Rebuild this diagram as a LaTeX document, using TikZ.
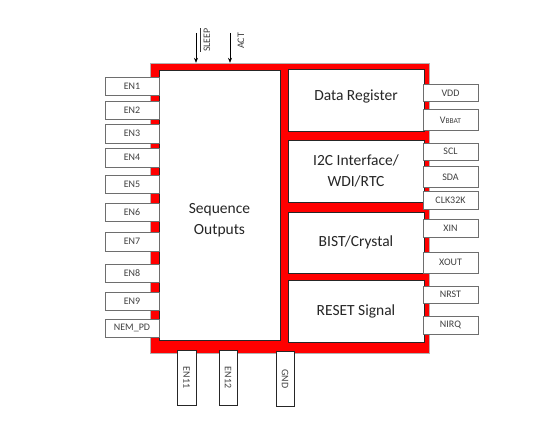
\documentclass[tikz,border=0pt]{standalone}
\usepackage{fontspec}
\setmainfont{Carlito}
\usetikzlibrary{arrows.meta}
\definecolor{chipred}{HTML}{FF0000}
\definecolor{pingray}{HTML}{6E6E6E}
\definecolor{labelgray}{HTML}{404040}
\begin{document}
\begin{tikzpicture}[x=1pt, y=-1pt,
    pinbox/.style={draw=pingray, fill=white, line width=0.8pt, inner sep=0pt,
      text=labelgray, font=\fontsize{10}{12}\selectfont},
    lpin/.style={pinbox, minimum width=54pt, minimum height=18pt},
    rpin/.style={pinbox, minimum width=55pt, minimum height=17pt},
    bpin/.style={pinbox, draw=black!85, minimum width=55pt, minimum height=18pt, rotate=-90},
    block/.style={draw=black!85, fill=white, line width=0.6pt, inner sep=0pt,
      align=center, text=black!85, font=\fontsize{15.5}{21}\selectfont},
    sigtext/.style={text=labelgray, inner sep=0pt, font=\fontsize{10}{12}\selectfont},
    sigarrow/.style={-{Stealth[length=5pt, width=4pt]}, line width=0.6pt}]
    \useasboundingbox (0,0) rectangle (560,433);
    % chip body
    \node[draw=gray!60, fill=chipred, minimum width=279pt, minimum height=290pt] (chip) at (289.5,208) {};
    \node[block, minimum width=121pt, minimum height=270pt] (seq) at (219.5,205) {};
    \node[block, draw=none, fill=none] (seqlbl) at (219.5,220) {Sequence\\Outputs};
    \node[block, minimum width=136pt, minimum height=62pt] (datareg) at (356,100) {};
    \node[block, draw=none, fill=none] (datalbl) at (356,97) {Data Register};
    \node[block, minimum width=136pt, minimum height=62pt] (i2c) at (356,171) {I2C Interface/\\WDI/RTC};
    \node[block, minimum width=136pt, minimum height=61pt] (bist) at (356,242.5) {BIST/Crystal};
    \node[block, minimum width=136pt, minimum height=62pt] (reset) at (356,311) {RESET Signal};
    % top inputs
    \coordinate (sleeptop) at (196,33);
    \coordinate (acttop) at (230,33);
    \draw[sigarrow] (sleeptop) -- (sleeptop |- chip.north);
    \draw[sigarrow] (acttop) -- (acttop |- chip.north);
    \node[sigtext, rotate=90] (sleeplbl) at (207,40) {SLEEP};
    \coordinate (barlow) at (200,52);
    \coordinate (barhigh) at (200,28);
    \draw[line width=0.7pt, black!80] (barlow) -- (barhigh);
    \node[sigtext, rotate=90] (actlbl) at (241,41) {ACT};
    % left pins
    \node[lpin] (en1) at (132,86) {EN1};
    \node[lpin] (en2) at (132,110) {EN2};
    \node[lpin, minimum height=19pt] (en3) at (132,133.5) {EN3};
    \node[lpin, minimum height=19pt] (en4) at (132,157.5) {EN4};
    \node[lpin] (en5) at (132,184) {EN5};
    \node[lpin] (en6) at (132,212) {EN6};
    \node[lpin, minimum height=19pt] (en7) at (132,241.5) {EN7};
    \node[lpin] (en8) at (132,273) {EN8};
    \node[lpin] (en9) at (132,301) {EN9};
    \node[lpin] (nempd) at (132,328) {NEM\_PD};
    % right pins
    \node[rpin] (vdd) at (450.5,93) {VDD};
    \node[rpin, minimum height=21pt] (vbbat) at (450.5,120) {V{\fontsize{7.5}{9}\selectfont BBAT}};
    \node[rpin] (scl) at (450.5,151.5) {SCL};
    \node[rpin, minimum height=21pt] (sda) at (450.5,177) {SDA};
    \node[rpin, minimum height=18pt] (clk) at (450.5,200) {CLK32K};
    \node[rpin, minimum height=18pt] (xin) at (450.5,228) {XIN};
    \node[rpin, minimum height=21pt] (xout) at (450.5,262.5) {XOUT};
    \node[rpin] (nrst) at (450.5,294.5) {NRST};
    \node[rpin, minimum height=18pt] (nirq) at (450.5,325) {NIRQ};
    % bottom pins
    \node[bpin, minimum height=19pt] (en11) at (186.5,377.5) {EN11};
    \node[bpin] (en12) at (228,377.5) {EN12};
    \node[bpin] (gnd) at (285,379) {GND};
\end{tikzpicture}
\end{document}
